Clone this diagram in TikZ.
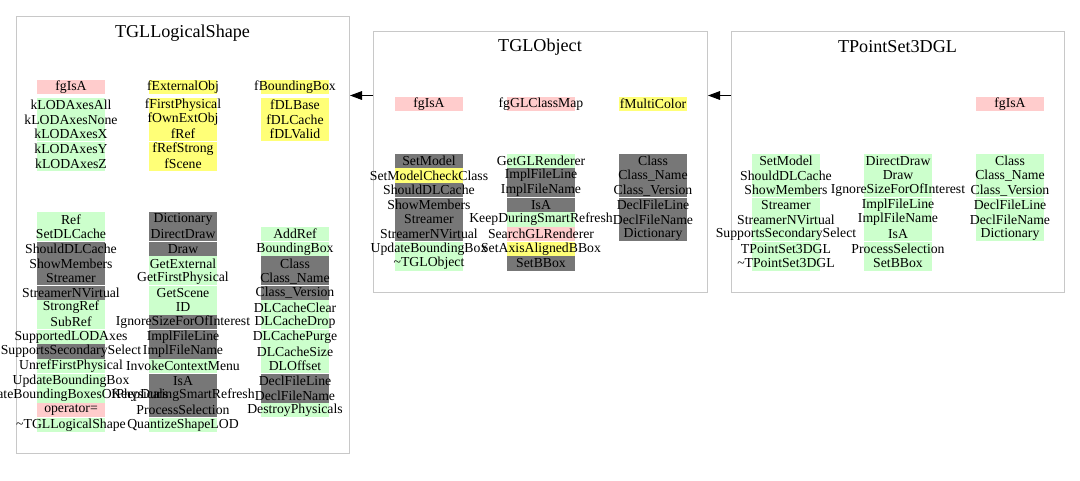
\documentclass[tikz,border=0pt]{standalone}
\usepackage{fontspec}
\setmainfont{Liberation Serif}
\usetikzlibrary{arrows.meta}
\definecolor{cpriv}{HTML}{FFCCCC}
\definecolor{cprot}{HTML}{FFFF77}
\definecolor{cpub}{HTML}{CCFFCC}
\definecolor{cinh}{HTML}{777777}
\definecolor{cbord}{HTML}{C8C8C8}
\pgfdeclarelayer{back}
\pgfdeclarelayer{bg}
\pgfsetlayers{back,bg,main}
\tikzset{
  member/.style={inner sep=0pt, font=\fontsize{10.3}{12}\selectfont},
  classbox/.style={draw=cbord, line width=0.75pt, inner sep=0pt},
  classtitle/.style={inner sep=0pt, font=\fontsize{13.6}{16}\selectfont},
  inherit/.style={line width=0.75pt, -{Triangle[length=9pt,width=6.5pt]}},
}
% #1 name prefix, #2 x, #3 first y, #4 row step, #5 list colour/text
\newcommand\membercol[5]{%
  \foreach \cc/\txt [count=\i] in {#5} {
    \pgfmathsetmacro\yy{#3+(\i-1)*#4}
    \pgfmathsetmacro\ytop{round(\yy-7.1667)}
    \pgfmathsetmacro\ybot{round(\yy+7.1667)}
    \begin{pgfonlayer}{bg}
      \fill[\cc] (#2-34,\ytop) rectangle (#2+34,\ybot);
    \end{pgfonlayer}
    \node[member] (#1\i) at (#2,\yy) {\txt};
  }}
\begin{document}
\begin{tikzpicture}[x=0.75pt,y=-0.75pt]
\begin{pgfonlayer}{back}
\fill[white] (0,0) rectangle (1080,480);
\end{pgfonlayer}
\useasboundingbox (0,0) rectangle (1080,480);

% class boxes
\node[classbox, minimum width=249.75pt, minimum height=327.75pt] (shape) at (183,235) {};
\node[classbox, minimum width=250.5pt, minimum height=195.75pt] (obj) at (540.5,162) {};
\node[classbox, minimum width=249.75pt, minimum height=195.75pt] (pts) at (898,162) {};

\node[classtitle] (shapet) at (182.5,33) {TGLLogicalShape};
\node[classtitle] (objt) at (540,47) {TGLObject};
\node[classtitle] (ptst) at (897.5,47) {TPointSet3DGL};

% inheritance arrows
\coordinate (lvl) at (0,95.5);
\draw[inherit] (obj.west |- lvl) -- (shape.east |- lvl);
\draw[inherit] (pts.west |- lvl) -- (obj.east |- lvl);

% ---- TGLLogicalShape ----
\membercol{sda}{71}{87}{14.6667}{cpriv/fgIsA}
\membercol{sdb}{71}{104.8333}{14.6667}{cpub/kLODAxesAll, cpub/kLODAxesNone, cpub/kLODAxesX, cpub/kLODAxesY, cpub/kLODAxesZ}
\membercol{sdc}{183}{87}{14.6667}{cprot/fExternalObj}
\membercol{sdd}{183}{104.8333}{14.6667}{cprot/fFirstPhysical, cprot/fOwnExtObj, cprot/fRef, cprot/fRefStrong, cprot/fScene}
\membercol{sde}{295}{87}{14.6667}{cprot/fBoundingBox}
\membercol{sdf}{295}{104.8333}{14.6667}{cprot/fDLBase, cprot/fDLCache, cprot/fDLValid}

\membercol{sma}{71}{219.5}{14.6667}{cpub/Ref, cpub/SetDLCache, cinh/ShouldDLCache, cinh/ShowMembers, cinh/Streamer, cinh/StreamerNVirtual, cpub/StrongRef, cpub/SubRef, cpub/SupportedLODAxes, cinh/SupportsSecondarySelect, cpub/UnrefFirstPhysical, cpub/UpdateBoundingBox, cpub/UpdateBoundingBoxesOfPhysicals, cpriv/operator=, cpub/\textasciitilde TGLLogicalShape}
\membercol{smb}{183}{219.5}{14.6667}{cinh/Dictionary, cinh/DirectDraw, cinh/Draw, cpub/GetExternal, cpub/GetFirstPhysical, cpub/GetScene, cpub/ID, cinh/IgnoreSizeForOfInterest, cinh/ImplFileLine, cinh/ImplFileName, cpub/InvokeContextMenu, cinh/IsA, cinh/KeepDuringSmartRefresh, cinh/ProcessSelection, cpub/QuantizeShapeLOD}
\membercol{smc}{295}{234.1667}{14.6667}{cpub/AddRef, cpub/BoundingBox, cinh/Class, cinh/Class\_Name, cinh/Class\_Version, cpub/DLCacheClear, cpub/DLCacheDrop, cpub/DLCachePurge, cpub/DLCacheSize, cpub/DLOffset, cinh/DeclFileLine, cinh/DeclFileName, cpub/DestroyPhysicals}

% ---- TGLObject ----
\membercol{oda}{429}{104}{14.6667}{cpriv/fgIsA}
\membercol{odb}{541}{104}{14.6667}{cpriv/fgGLClassMap}
\membercol{odc}{653}{104}{14.6667}{cprot/fMultiColor}
\membercol{oma}{429}{160.8333}{14.6667}{cinh/SetModel, cprot/SetModelCheckClass, cinh/ShouldDLCache, cinh/ShowMembers, cinh/Streamer, cinh/StreamerNVirtual, cpub/UpdateBoundingBox, cpub/\textasciitilde TGLObject}
\membercol{omb}{541}{160.8333}{14.6667}{cpub/GetGLRenderer, cinh/ImplFileLine, cinh/ImplFileName, cinh/IsA, cpub/KeepDuringSmartRefresh, cpriv/SearchGLRenderer, cprot/SetAxisAlignedBBox, cinh/SetBBox}
\membercol{omc}{653}{160.8333}{14.6667}{cinh/Class, cinh/Class\_Name, cinh/Class\_Version, cinh/DeclFileLine, cinh/DeclFileName, cinh/Dictionary}

% ---- TPointSet3DGL ----
\membercol{pda}{1010}{104}{14.6667}{cpriv/fgIsA}
\membercol{pma}{786}{160.8333}{14.6667}{cpub/SetModel, cpub/ShouldDLCache, cpub/ShowMembers, cpub/Streamer, cpub/StreamerNVirtual, cpub/SupportsSecondarySelect, cpub/TPointSet3DGL, cpub/\textasciitilde TPointSet3DGL}
\membercol{pmb}{898}{160.8333}{14.6667}{cpub/DirectDraw, cpub/Draw, cpub/IgnoreSizeForOfInterest, cpub/ImplFileLine, cpub/ImplFileName, cpub/IsA, cpub/ProcessSelection, cpub/SetBBox}
\membercol{pmc}{1010}{160.8333}{14.6667}{cpub/Class, cpub/Class\_Name, cpub/Class\_Version, cpub/DeclFileLine, cpub/DeclFileName, cpub/Dictionary}
\end{tikzpicture}
\end{document}
